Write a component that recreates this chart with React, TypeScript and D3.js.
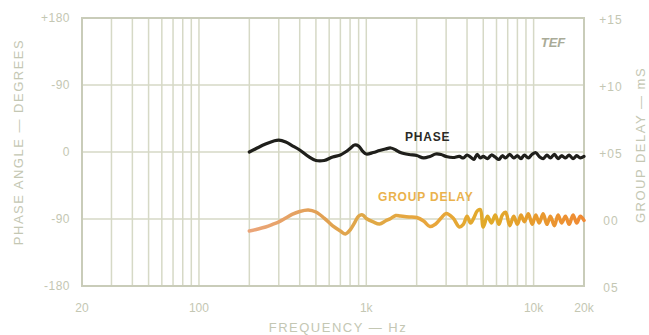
import React from "react";
import * as d3 from "d3";

const freqTicks = [20, 100, 1000, 10000, 20000];
const freqTickLabels = ["20", "100", "1k", "10k", "20k"];
const phaseTicks = [180, 90, 0, -90, -180];
const phaseTickLabels = ["+180", "-90", "0", "-90", "-180"];
const delayTicks = [1.5, 1.0, 0.5, 0.0, -0.5];
const delayTickLabels = ["+15", "+10", "+05", "00", "05"];

const curveFreq = [
  200, 220, 250, 280, 300, 330, 360, 400, 450, 500, 560, 630, 700, 750, 800, 850, 900, 950,
  1000, 1100, 1200, 1300, 1400, 1500, 1600, 1800, 2000, 2200, 2400, 2600, 2800, 3000, 3300, 3600,
  3800, 4000, 4200, 4400, 4600, 4800, 5000, 5300, 5600, 5900, 6200, 6500, 6800, 7200, 7600, 8000,
  8400, 8800, 9300, 9800, 10300, 10800, 11400, 12000, 12600, 13300, 14000, 14700, 15500, 16300,
  17200, 18100, 19000, 20000,
];

const phaseDeg = [
  0, 4.7, 10.7, 14.8, 16, 13.4, 8.7, 2.7, -6, -11.4, -11.4, -6.7, -4, 0, 4.7, 9.4, 8, 1.3,
  -2.7, -0.7, 2, 4, 5.4, 2.7, -0.7, -3.4, -4.7, -8, -6, -2.7, -3.4, -6, -7.4, -6,
  -8, -4, -7, -10, -3, -8, -6, -9, -4, -7, -10, -5, -8, -3, -8, -5,
  -9, -4, -8, -3, -1, -6, -9, -4, -8, -3, -9, -5, -8, -4,
  -9, -5, -8, -6,
];

const delayMs = [
  -0.09, -0.078, -0.06, -0.037, -0.022, 0.007, 0.034, 0.056, 0.067, 0.052, 0.007, -0.052, -0.09,
  -0.112, -0.082, -0.03, 0.022, 0.03,
  0.004, -0.022, -0.037, -0.015, 0.004, 0.026, 0.022, 0.015, 0.011, -0.015, -0.056, -0.037, 0.007,
  0.041, 0.007, -0.06,
  -0.04, 0.02, -0.03, 0.01, 0.06, 0.07, -0.06, 0.02, -0.03, 0.03, -0.04, 0.03, 0.05, -0.05, 0.02,
  -0.04, 0.03, -0.02, 0.04, -0.04, 0.03, -0.03, 0.04, -0.04, 0.02, -0.05, 0.03, -0.03, 0.02, -0.04,
  0.03, -0.03, 0.02, -0.01,
];

const W = 649;
const H = 335;
const left = 82;
const right = 584;
const top = 18;
const bottom = 286;

const gridColor = "#d6d9c6";
const textColor = "#c4c7b3";
const font = "'Liberation Sans', Arial, sans-serif";

export default function App() {
  const x = d3.scaleLog().domain([20, 20000]).range([left, right]);
  const yP = d3.scaleLinear().domain([-180, 180]).range([bottom, top]);
  const yD = d3.scaleLinear().domain([-0.5, 1.5]).range([bottom, top]);

  const gridFreqs: number[] = [];
  [10, 100, 1000].forEach((dec) => {
    for (let m = 1; m <= 9; m++) {
      const f = dec * m;
      if (f > 20 && f <= 10000) gridFreqs.push(f);
    }
  });
  gridFreqs.push(10000);

  const phaseLine = d3
    .line<number>()
    .x((_, i) => x(curveFreq[i]))
    .y((d) => yP(d))
    .curve(d3.curveCatmullRom.alpha(0.5));
  const delayLine = d3
    .line<number>()
    .x((_, i) => x(curveFreq[i]))
    .y((d) => yD(d))
    .curve(d3.curveCatmullRom.alpha(0.5));

  return (
    <div style={{ position: "fixed", left: 0, top: 0 }}>
      <svg width={W} height={H} style={{ display: "block", background: "#ffffff" }}>
        <defs>
          <linearGradient id="gd" gradientUnits="userSpaceOnUse" x1={x(200)} x2={x(20000)} y1={0} y2={0}>
            <stop offset="0" stopColor="#eba57a" />
            <stop offset="0.2" stopColor="#e2a055" />
            <stop offset="0.35" stopColor="#dfa846" />
            <stop offset="0.55" stopColor="#e9a63c" />
            <stop offset="0.72" stopColor="#e0aa28" />
            <stop offset="1" stopColor="#f08a34" />
          </linearGradient>
        </defs>
        {gridFreqs.map((f) => (
          <line key={f} x1={x(f)} x2={x(f)} y1={top} y2={bottom} stroke={gridColor} strokeWidth={1.5} />
        ))}
        {[90, 0, -90].map((p) => (
          <line key={p} x1={left} x2={right} y1={yP(p)} y2={yP(p)} stroke={gridColor} strokeWidth={1.5} />
        ))}
        <rect x={left} y={top} width={right - left} height={bottom - top} fill="none" stroke="#c9ccb9" strokeWidth={2} />

        {phaseTicks.map((p, i) => (
          <text key={i} x={70} y={yP(p)} dy="0.35em" textAnchor="end" fontSize={12} fill={textColor} fontFamily={font} letterSpacing={0.5}>
            {phaseTickLabels[i]}
          </text>
        ))}
        {delayTicks.map((d, i) => (
          <text key={i} x={611} y={yD(d) + 2} dy="0.35em" textAnchor="middle" fontSize={12} fill={textColor} fontFamily={font} letterSpacing={1}>
            {delayTickLabels[i]}
          </text>
        ))}
        {freqTicks.map((f, i) => (
          <text key={i} x={x(f)} y={308} dy="0.35em" textAnchor="middle" fontSize={12} fill={textColor} fontFamily={font}>
            {freqTickLabels[i]}
          </text>
        ))}
        <text x={338} y={332} textAnchor="middle" fontSize={13} fill={textColor} fontFamily={font} letterSpacing={1.5}>
          FREQUENCY — Hz
        </text>
        <text transform="translate(23,142) rotate(-90)" textAnchor="middle" fontSize={13} fill={textColor} fontFamily={font} letterSpacing={1.5}>
          PHASE ANGLE — DEGREES
        </text>
        <text transform="translate(645,145) rotate(-90)" textAnchor="middle" fontSize={13} fill={textColor} fontFamily={font} letterSpacing={1.5}>
          GROUP DELAY — mS
        </text>
        <text x={553} y={47} textAnchor="middle" fontSize={13} fontStyle="italic" fontWeight="bold" fill="#a9ab98" fontFamily={font}>
          TEF
        </text>

        <path d={delayLine(delayMs) || ""} fill="none" stroke="url(#gd)" strokeWidth={3.5} strokeLinejoin="round" strokeLinecap="round" />
        <path d={phaseLine(phaseDeg) || ""} fill="none" stroke="#1f1f1b" strokeWidth={3.2} strokeLinejoin="round" strokeLinecap="round" />

        <text x={405} y={141} fontSize={12} fontWeight="bold" fill="#2a2a26" fontFamily={font} letterSpacing={0.8}>
          PHASE
        </text>
        <text x={378} y={201} fontSize={12} fontWeight="bold" fill="#eab24c" fontFamily={font} letterSpacing={0.8}>
          GROUP DELAY
        </text>
      </svg>
    </div>
  );
}
